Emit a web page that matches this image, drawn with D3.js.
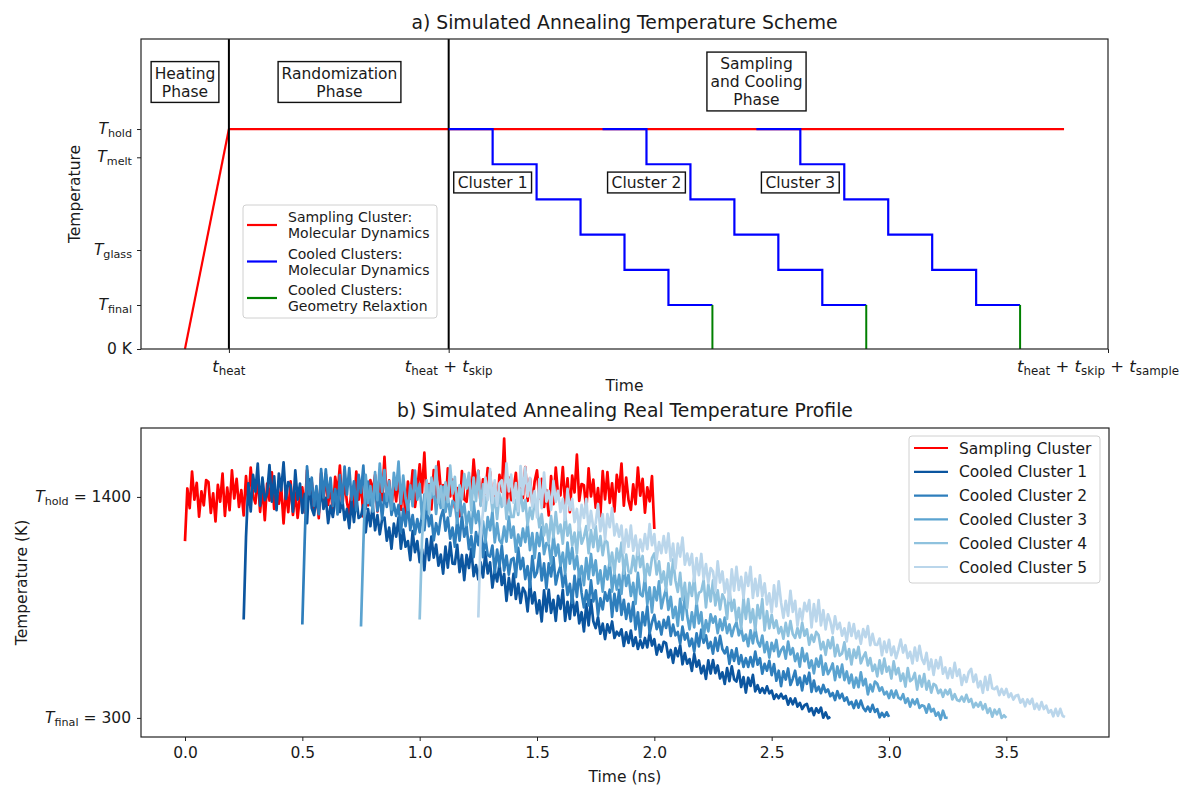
<!DOCTYPE html>
<html><head><meta charset="utf-8">
<script src="https://cdn.jsdelivr.net/npm/d3@7"></script>
<style>
body{margin:0;background:#fff;}
svg{display:block;font-family:"DejaVu Sans",sans-serif;}
text{white-space:pre;}
</style></head><body>
<svg id="c" width="1181" height="787"></svg>
<script>
// ---------------- DATA: panel a (schematic) ----------------
const schemeYTicks = [0, 280, 630, 1220, 1400];
const schemeYLabels = [[["0 K","n"]], [["T","i"],["final","s"]], [["T","i"],["glass","s"]], [["T","i"],["melt","s"]], [["T","i"],["hold","s"]]];
const schemeXTicks = [1, 6, 21];
const schemeXLabels = [
  [["t","i"],["heat","s"]],
  [["t","i"],["heat","s"],[" + ","n"],["t","i"],["skip","s"]],
  [["t","i"],["heat","s"],[" + ","n"],["t","i"],["skip","s"],[" + ","n"],["t","i"],["sample","s"]]
];
const heatingLine = [[0, 0], [1, 1400]];
const holdLine = [[1, 1400], [20, 1400]];
const phaseDividers = [1, 6];
const stepLevels = [1400, 1176, 952, 728, 504, 280];
const clusterStarts = [6, 9.5, 13];
const clusterNames = ["Cluster 1", "Cluster 2", "Cluster 3"];
const phaseNames = [["Heating","Phase"], ["Randomization","Phase"], ["Sampling","and Cooling","Phase"]];
const schemeLegend = [["Sampling Cluster:","Molecular Dynamics"],["Cooled Clusters:","Molecular Dynamics"],["Cooled Clusters:","Geometry Relaxtion"]];

// ---------------- DATA: panel b (real profile) ----------------
const sampleStep = 0.01; // ns between samples
const xTicksB = [0.0, 0.5, 1.0, 1.5, 2.0, 2.5, 3.0, 3.5];
const yTicksB = [300, 1400];
const yLabelsB = [[["T","i"],["final","s"],[" = 300","n"]], [["T","i"],["hold","s"],[" = 1400","n"]]];
const seriesNames = ["Sampling Cluster","Cooled Cluster 1","Cooled Cluster 2","Cooled Cluster 3","Cooled Cluster 4","Cooled Cluster 5"];
const seriesStarts = [0, 0.25, 0.5, 0.75, 1.0, 1.25];
const samplingCluster = [
1180,1442,1344,1526,1386,1470,1302,1428,1358,1484,
1474,1320,1418,1278,1460,1376,1516,1306,1446,1334,
1532,1392,1490,1350,1434,1308,1504,1364,1546,1406,
1368,1508,1326,1452,1284,1466,1382,1522,1340,1424,
1366,1450,1268,1436,1324,1478,1310,1422,1296,1408,
1448,1322,1532,1392,1476,1336,1434,1294,1518,1378,
1514,1360,1458,1318,1500,1416,1556,1346,1486,1374,
1316,1442,1344,1526,1386,1470,1302,1428,1358,1484,
1426,1510,1328,1496,1384,1600,1370,1482,1356,1468,
1378,1518,1336,1462,1294,1476,1392,1532,1350,1434,
1562,1422,1620,1380,1464,1338,1534,1394,1576,1436,
1458,1332,1542,1402,1486,1346,1444,1304,1528,1388,
1376,1502,1404,1586,1446,1530,1362,1488,1418,1544,
1524,1370,1468,1328,1510,1426,1690,1356,1496,1384,
1436,1520,1338,1506,1394,1548,1380,1492,1366,1478,
1532,1392,1490,1350,1434,1308,1504,1364,1546,1406,
1408,1548,1366,1492,1324,1506,1422,1610,1380,1464,
1458,1332,1542,1402,1486,1346,1444,1304,1528,1388,
1524,1370,1468,1328,1510,1426,1566,1356,1496,1384,
1336,1462,1364,1546,1406,1490,1322,1448,1378,1504,
1240];
const cooled1 = [
790,1200,1468,1328,1510,1426,1566,1356,1496,1384,
1418,1558,1376,1502,1334,1516,1432,1572,1390,1474,
1458,1327,1532,1387,1466,1321,1414,1269,1488,1343,
1310,1395,1320,1445,1340,1395,1270,1355,1300,1385,
1430,1325,1390,1285,1340,1245,1380,1275,1400,1295,
1304,1359,1224,1339,1254,1359,1234,1309,1214,1289,
1297,1182,1247,1142,1267,1202,1297,1142,1237,1152,
1180,1085,1230,1125,1180,1075,1140,1035,1190,1085,
1203,1098,1163,1058,1113,1018,1153,1048,1173,1068,
1066,1161,1026,1111,986,1111,1046,1141,1006,1061,
989,1074,999,1124,1019,1074,949,1034,979,1064,
962,1017,882,997,912,1017,892,967,872,947,
925,830,975,870,925,820,885,780,935,830,
938,823,888,783,908,843,938,783,878,793,
916,811,876,771,826,731,866,761,886,781,
747,802,719,769,692,766,725,780,698,729,
710,741,658,726,673,735,658,701,643,686,
649,698,651,725,660,692,615,664,630,679,
672,601,638,574,647,607,662,567,623,570,
593,534,619,555,586,522,559,494,586,521,
588,523,561,496,527,469,548,483,557,492,
481,536,454,503,426,500,459,514,432,463,
426,448,423,457,422,436,395,417,398,420,
396,409,366,397,368,397,356,375,344,363,
370,332,349,314,348,326,351,301,327,298,
305];
const cooled2 = [
765,1180,1552,1412,1496,1356,1454,1314,1538,1398,
1537,1397,1495,1355,1439,1313,1509,1369,1551,1411,
1544,1385,1478,1333,1510,1421,1556,1341,1476,1359,
1370,1465,1330,1415,1290,1415,1350,1445,1310,1365,
1305,1360,1225,1340,1255,1360,1235,1310,1215,1290,
1224,1309,1234,1359,1254,1309,1184,1269,1214,1299,
1337,1232,1297,1192,1247,1152,1287,1182,1307,1202,
1255,1140,1205,1100,1225,1160,1255,1100,1195,1110,
1103,1158,1023,1138,1053,1158,1033,1108,1013,1088,
1096,1001,1146,1041,1096,991,1056,951,1106,1001,
1024,1119,984,1069,944,1069,1004,1099,964,1019,
1057,952,1017,912,967,872,1007,902,1027,922,
850,935,860,985,880,935,810,895,840,925,
883,938,803,918,833,938,813,888,793,868,
781,876,741,826,701,826,761,856,721,776,
813,742,779,715,788,748,803,708,764,711,
728,669,754,690,721,657,694,629,721,656,
739,674,711,647,678,620,699,634,708,643,
621,652,569,637,584,646,569,612,554,597,
554,603,556,630,565,597,520,569,535,584,
513,568,485,535,458,532,491,546,464,495,
535,464,501,437,510,470,525,430,486,433,
455,423,464,429,442,408,424,389,433,398,
420,385,402,367,380,349,386,351,386,351,
334,356,331,365,330,344,303,325,306,328,
305];
const cooled3 = [
755,1160,1510,1370,1454,1328,1524,1384,1566,1426,
1534,1380,1478,1338,1520,1436,1576,1366,1506,1394,
1336,1457,1354,1531,1386,1465,1292,1413,1338,1459,
1395,1450,1315,1430,1345,1450,1325,1400,1305,1380,
1365,1270,1415,1310,1365,1260,1325,1220,1375,1270,
1329,1214,1279,1174,1299,1234,1329,1174,1269,1184,
1167,1252,1177,1302,1197,1252,1127,1212,1157,1242,
1175,1270,1135,1220,1095,1220,1155,1250,1115,1170,
1163,1068,1213,1108,1163,1058,1123,1018,1173,1068,
1146,1041,1106,1001,1056,961,1096,991,1116,1011,
1084,969,1034,929,1054,989,1084,929,1024,939,
1012,917,1062,957,1012,907,972,867,1022,917,
905,1000,865,950,825,950,885,980,845,900,
943,838,903,798,853,758,893,788,913,808,
741,826,751,876,771,826,701,786,731,816,
774,805,722,790,737,799,722,765,707,750,
776,711,748,684,715,657,736,671,745,680,
655,710,627,677,600,674,633,688,606,637,
654,595,680,616,647,583,620,555,647,582,
620,549,586,522,595,555,610,515,571,518,
540,571,488,556,503,565,488,531,473,516,
451,500,453,527,462,494,417,466,432,481,
470,435,452,417,430,399,436,401,436,401,
393,418,375,397,356,391,368,393,350,363,
358,326,367,332,345,311,327,292,336,301,
300];
const cooled4 = [
790,1190,1356,1482,1314,1496,1412,1552,1370,1454,
1346,1472,1374,1556,1416,1500,1332,1458,1388,1514,
1441,1520,1333,1496,1379,1528,1355,1462,1331,1438,
1445,1330,1395,1290,1415,1350,1445,1290,1385,1300,
1300,1385,1310,1435,1330,1385,1260,1345,1290,1375,
1354,1249,1314,1209,1264,1169,1304,1199,1324,1219,
1262,1167,1312,1207,1262,1157,1222,1117,1272,1167,
1200,1255,1120,1235,1150,1255,1130,1205,1110,1185,
1173,1058,1123,1018,1143,1078,1173,1018,1113,1028,
1021,1106,1031,1156,1051,1106,981,1066,1011,1096,
1119,1014,1079,974,1029,934,1069,964,1089,984,
927,1022,887,972,847,972,907,1002,867,922,
930,985,850,965,880,985,860,935,840,915,
888,793,938,833,888,783,848,743,898,793,
891,776,841,736,861,796,891,736,831,746,
813,748,785,721,752,694,773,708,782,717,
698,747,700,774,709,741,664,713,679,728,
712,641,678,614,687,647,702,607,663,610,
621,676,593,643,566,640,599,654,572,603,
626,561,598,534,565,507,586,521,595,530,
555,496,581,517,548,484,521,456,548,483,
493,524,441,509,456,518,441,484,426,469,
461,423,440,405,439,417,442,392,418,389,
384,406,381,415,380,394,353,375,356,378,
343,368,325,347,306,341,318,343,300,313,
300];
const cooled5 = [
800,1210,1328,1496,1384,1538,1370,1482,1356,1468,
1483,1357,1567,1427,1511,1371,1469,1329,1553,1413,
1547,1402,1495,1350,1429,1298,1489,1344,1521,1376,
1430,1335,1480,1375,1430,1325,1390,1285,1440,1335,
1390,1275,1340,1235,1360,1295,1390,1235,1330,1245,
1269,1364,1229,1314,1189,1314,1249,1344,1209,1264,
1202,1257,1122,1237,1152,1257,1132,1207,1112,1187,
1130,1215,1140,1265,1160,1215,1090,1175,1120,1205,
1123,1218,1083,1168,1043,1168,1103,1198,1063,1118,
1061,1116,981,1096,1011,1116,991,1066,971,1046,
1029,934,1079,974,1029,924,989,884,1039,934,
1052,937,1002,897,1022,957,1052,897,992,907,
1010,905,970,865,920,825,960,855,980,875,
798,883,808,933,828,883,758,843,788,873,
831,886,751,866,781,886,761,836,741,816,
780,721,806,742,773,709,746,681,773,708,
767,696,733,669,742,702,757,662,718,665,
664,695,612,680,627,689,612,655,597,640,
690,625,662,598,629,571,650,585,659,594,
569,624,541,591,514,588,547,602,520,551,
498,547,500,574,509,541,464,513,479,528,
544,479,516,452,483,425,504,439,513,448,
443,456,413,444,415,444,403,422,391,410,
414,376,393,358,392,370,395,345,371,342,
379,344,361,326,339,308,345,310,345,310,
305];
const seriesValues = [samplingCluster, cooled1, cooled2, cooled3, cooled4, cooled5];
const seriesColors = ["#ff0000", "#0b559f", "#2e7ebc", "#5ba3d0", "#8fc2de", "#bad6eb"];

// ---------------- helpers ----------------
const svg = d3.select("#c");
const INK = "#1a1a1a";
function mathText(sel, parts, fs) {
  let shifted = false;
  parts.forEach(p => {
    const ts = sel.append("tspan").text(p[0]);
    if (p[1] === "i") ts.attr("font-style", "italic");
    if (p[1] === "s") {
      ts.attr("font-size", fs * 0.72);
      if (!shifted) { ts.attr("dy", fs * 0.2); shifted = true; }
    } else if (shifted) { ts.attr("dy", -fs * 0.2); shifted = false; }
  });
}

// ================= PANEL A =================
const A = {l: 141, r: 1108, t: 39, b: 349};
const xa = d3.scaleLinear().domain([-1, 21]).range([A.l, A.r]);
const ya = d3.scaleLinear().domain([0, 1973]).range([A.b, A.t]);
const ga = svg.append("g");
const lineA = d3.line().x(d => xa(d[0])).y(d => ya(d[1]));

svg.append("text").attr("x", (A.l + A.r) / 2).attr("y", 29).attr("text-anchor", "middle")
  .attr("font-size", 18.8).attr("fill", INK).text("a) Simulated Annealing Temperature Scheme");

ga.append("path").attr("d", lineA(heatingLine)).attr("fill", "none").attr("stroke", "#ff0000").attr("stroke-width", 2.2);
ga.append("path").attr("d", lineA(holdLine)).attr("fill", "none").attr("stroke", "#ff0000").attr("stroke-width", 2.2);
phaseDividers.forEach(v => {
  ga.append("line").attr("x1", xa(v)).attr("x2", xa(v)).attr("y1", A.t).attr("y2", A.b)
    .attr("stroke", "#000").attr("stroke-width", 2);
});
clusterStarts.forEach(s => {
  const pts = [[s, stepLevels[0]]];
  stepLevels.forEach((lv, k) => { pts.push([s + k, lv]); pts.push([s + k + 1, lv]); });
  ga.append("path").attr("d", lineA(pts)).attr("fill", "none").attr("stroke", "#0000ff").attr("stroke-width", 2.2);
  const end = s + stepLevels.length;
  ga.append("path").attr("d", lineA([[end, stepLevels[stepLevels.length - 1]], [end, 0]]))
    .attr("fill", "none").attr("stroke", "#008000").attr("stroke-width", 2);
});
ga.append("rect").attr("x", A.l).attr("y", A.t).attr("width", A.r - A.l).attr("height", A.b - A.t)
  .attr("fill", "none").attr("stroke", "#222").attr("stroke-width", 1.2);
const yAxA = ga.append("g").attr("transform", `translate(${A.l},0)`)
  .call(d3.axisLeft(ya).tickValues(schemeYTicks).tickSize(4).tickFormat(""));
yAxA.select(".domain").remove();
yAxA.selectAll("line").attr("stroke", "#222");
schemeYTicks.forEach((v, i) => {
  const t = ga.append("text").attr("x", A.l - 9).attr("y", ya(v) + 5).attr("text-anchor", "end")
    .attr("font-size", 15.5).attr("fill", INK);
  mathText(t, schemeYLabels[i], 15.5);
});
const xAxA = ga.append("g").attr("transform", `translate(0,${A.b})`)
  .call(d3.axisBottom(xa).tickValues(schemeXTicks).tickSize(4).tickFormat(""));
xAxA.select(".domain").remove();
xAxA.selectAll("line").attr("stroke", "#222");
schemeXTicks.forEach((v, i) => {
  const last = i === schemeXTicks.length - 1;
  const t = ga.append("text").attr("x", last ? 1179 : xa(v)).attr("y", A.b + 23)
    .attr("text-anchor", last ? "end" : "middle").attr("font-size", 16.5).attr("fill", INK);
  mathText(t, schemeXLabels[i], 16.5);
});
ga.append("text").attr("x", (A.l + A.r) / 2).attr("y", 391).attr("text-anchor", "middle")
  .attr("font-size", 15.5).attr("fill", INK).text("Time");
ga.append("text").attr("transform", `translate(80,${(A.t + A.b) / 2}) rotate(-90)`).attr("text-anchor", "middle")
  .attr("font-size", 15.5).attr("fill", INK).text("Temperature");

function boxedText(cx, cy, lines, fs, lh, padX, padY) {
  const g = ga.append("g");
  const txt = g.append("text").attr("text-anchor", "middle").attr("font-size", fs).attr("fill", INK);
  const y0 = cy - (lines.length - 1) * lh / 2;
  lines.forEach((s, k) => txt.append("tspan").attr("x", cx).attr("y", y0 + k * lh + fs * 0.36).text(s));
  const bb = txt.node().getBBox();
  const w = bb.width + 2 * padX, h = (lines.length - 1) * lh + fs * 1.15 + 2 * padY;
  g.insert("rect", "text").attr("x", cx - w / 2).attr("y", cy - h / 2).attr("width", w).attr("height", h)
    .attr("fill", "#fff").attr("stroke", "#111").attr("stroke-width", 1.4);
}
boxedText((151 + 219) / 2, 82, phaseNames[0], 15.5, 18, 3.5, 2.5);
boxedText((277 + 402) / 2, 82, phaseNames[1], 15.5, 18, 3.5, 2.5);
boxedText(756.5, 81.5, phaseNames[2], 15.5, 18, 3.5, 2.5);
clusterStarts.forEach((s, i) => boxedText(xa(s + 1), 182.5, [clusterNames[i]], 15.5, 18, 4, 1.5));

const La = ga.append("g");
La.append("rect").attr("x", 243).attr("y", 205).attr("width", 194).attr("height", 113).attr("rx", 3)
  .attr("fill", "#fff").attr("fill-opacity", 0.85).attr("stroke", "#d0d0d0");
const laColors = ["#ff0000", "#0000ff", "#008000"];
schemeLegend.forEach((lines, i) => {
  const cy = 225 + i * 36.5;
  La.append("line").attr("x1", 247).attr("x2", 277).attr("y1", cy).attr("y2", cy)
    .attr("stroke", laColors[i]).attr("stroke-width", 2.2);
  const t = La.append("text").attr("font-size", 14).attr("fill", INK);
  lines.forEach((s, k) => t.append("tspan").attr("x", 288).attr("y", cy - 8 + k * 16 + 5).text(s));
});

// ================= PANEL B =================
const B = {l: 141, r: 1109, t: 428, b: 737};
const xb = d3.scaleLinear().domain([-0.1875, 3.9375]).range([B.l, B.r]);
const yb = d3.scaleLinear().domain([205, 1743]).range([B.b, B.t]);
const gb = svg.append("g");
svg.append("text").attr("x", (B.l + B.r) / 2).attr("y", 417).attr("text-anchor", "middle")
  .attr("font-size", 18.8).attr("fill", INK).text("b) Simulated Annealing Real Temperature Profile");

seriesValues.forEach((vals, si) => {
  const st = seriesStarts[si];
  const ln = d3.line().x((d, i) => xb(st + i * sampleStep)).y(d => yb(d));
  gb.append("path").attr("d", ln(vals)).attr("fill", "none").attr("stroke", seriesColors[si])
    .attr("stroke-width", 2.7).attr("stroke-linejoin", "round");
});
gb.append("rect").attr("x", B.l).attr("y", B.t).attr("width", B.r - B.l).attr("height", B.b - B.t)
  .attr("fill", "none").attr("stroke", "#222").attr("stroke-width", 1.2);
const xAxB = gb.append("g").attr("transform", `translate(0,${B.b})`)
  .call(d3.axisBottom(xb).tickValues(xTicksB).tickSize(4).tickPadding(6).tickFormat(d3.format(".1f")));
xAxB.select(".domain").remove();
xAxB.selectAll("line").attr("stroke", "#222");
xAxB.selectAll("text").attr("font-size", 15.5).attr("font-family", "DejaVu Sans").attr("fill", INK);
const yAxB = gb.append("g").attr("transform", `translate(${B.l},0)`)
  .call(d3.axisLeft(yb).tickValues(yTicksB).tickSize(4).tickFormat(""));
yAxB.select(".domain").remove();
yAxB.selectAll("line").attr("stroke", "#222");
yTicksB.forEach((v, i) => {
  const t = gb.append("text").attr("x", B.l - 10).attr("y", yb(v) + 5).attr("text-anchor", "end")
    .attr("font-size", 15.5).attr("fill", INK);
  mathText(t, yLabelsB[i], 15.5);
});
gb.append("text").attr("x", (B.l + B.r) / 2).attr("y", 782).attr("text-anchor", "middle")
  .attr("font-size", 15.5).attr("fill", INK).text("Time (ns)");
gb.append("text").attr("transform", `translate(27,${(B.t + B.b) / 2}) rotate(-90)`).attr("text-anchor", "middle")
  .attr("font-size", 15.5).attr("fill", INK).text("Temperature (K)");

const Lb = gb.append("g");
Lb.append("rect").attr("x", 909).attr("y", 436).attr("width", 191).attr("height", 147).attr("rx", 3)
  .attr("fill", "#fff").attr("fill-opacity", 0.85).attr("stroke", "#d0d0d0");
seriesNames.forEach((n, i) => {
  const cy = 448 + i * 23.8;
  Lb.append("line").attr("x1", 914).attr("x2", 948).attr("y1", cy).attr("y2", cy)
    .attr("stroke", seriesColors[i]).attr("stroke-width", 2.2);
  Lb.append("text").attr("x", 959).attr("y", cy + 5.5).attr("font-size", 15.5).attr("fill", INK).text(n);
});
</script>
</body></html>
